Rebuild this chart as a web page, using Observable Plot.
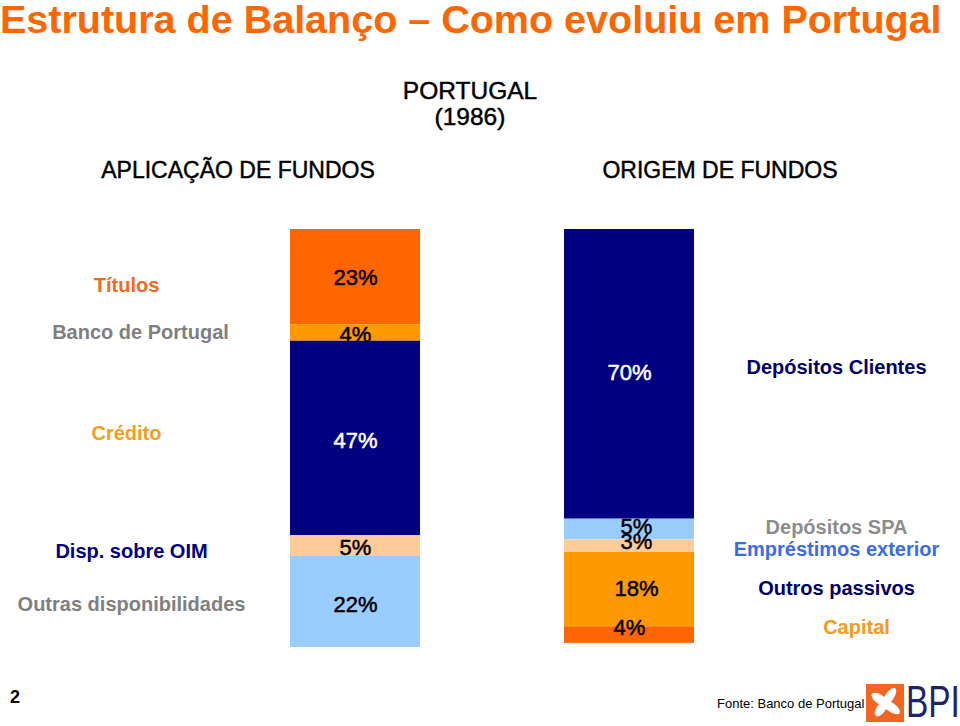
<!DOCTYPE html>
<html>
<head>
<meta charset="utf-8">
<script src="https://cdn.jsdelivr.net/npm/d3@7"></script>
<script src="https://cdn.jsdelivr.net/npm/@observablehq/plot@0.6"></script>
<style>
  html, body { margin: 0; padding: 0; background: #fff; }
  body { font-family: "Liberation Sans", Arial, Helvetica, sans-serif; }
  #wrap { position: relative; width: 960px; height: 726px; overflow: hidden; background: #fff; }
  .t { position: absolute; white-space: nowrap; line-height: 1; }
  .med { -webkit-text-stroke: 0.45px currentColor; }
  #chart { position: absolute; left: 0; top: 200px; }
</style>
</head>
<body>
<div id="wrap">
  <div class="t" id="title" style="left:0;top:0;font-size:39.5px;font-weight:bold;color:#FF6600;">Estrutura de Balanço – Como evoluiu em Portugal</div>
  <div class="t med" style="left:0;width:940px;text-align:center;top:79px;font-size:24.5px;color:#000;">PORTUGAL</div>
  <div class="t med" style="left:0;width:940px;text-align:center;top:104.5px;font-size:24.5px;color:#000;">(1986)</div>
  <div class="t med" id="hL" style="left:0;width:476px;text-align:center;top:158.5px;font-size:23px;color:#000;"></div>
  <div class="t med" id="hR" style="left:0;width:1440px;text-align:center;top:158.5px;font-size:23px;color:#000;"></div>
  <div id="chart"></div>
  <div class="t" style="left:10px;top:688px;font-size:18px;font-weight:bold;color:#000;">2</div>
  <div class="t" style="left:717px;top:697px;font-size:13px;color:#000;">Fonte: Banco de Portugal</div>
  <svg style="position:absolute;left:866px;top:684px;" width="38" height="38" viewBox="0 0 38 38">
    <rect width="38" height="38" fill="#F26522"/>
    <g fill="#fff" transform="translate(19,19)">
      <ellipse rx="4.5" ry="11" transform="rotate(35) translate(0,-7)"/>
      <ellipse rx="4.5" ry="11" transform="rotate(125) translate(0,-7)"/>
      <ellipse rx="4.5" ry="9" transform="rotate(215) translate(0,-7)"/>
      <ellipse rx="4.5" ry="9" transform="rotate(305) translate(0,-7)"/>
    </g>
  </svg>
  <div class="t" style="left:906px;top:680px;font-size:44px;color:#1C2566;transform:scaleX(0.76);transform-origin:left top;">BPI</div>
</div>
<script>
// ---- Data ----
const lados = ["APLICAÇÃO DE FUNDOS", "ORIGEM DE FUNDOS"];
const aplicacaoCategorias = ["Títulos", "Banco de Portugal", "Crédito", "Disp. sobre OIM", "Outras disponibilidades"];
const aplicacaoValores = [23, 4, 47, 5, 22];
const origemCategorias = ["Depósitos Clientes", "Depósitos SPA", "Empréstimos exterior", "Outros passivos", "Capital"];
const origemValores = [70, 5, 3, 18, 4];

// ---- Styles ----
const segmentColors = {
  "Títulos": "#FF6600", "Banco de Portugal": "#FF9900", "Crédito": "#000080",
  "Disp. sobre OIM": "#FFCC99", "Outras disponibilidades": "#99CCFF",
  "Depósitos Clientes": "#000080", "Depósitos SPA": "#99CCFF", "Empréstimos exterior": "#FFCC99",
  "Outros passivos": "#FF9900", "Capital": "#FF6600"
};
const labelColors = {
  "Títulos": "#F26B1D", "Banco de Portugal": "#7F7F7F", "Crédito": "#F0A01E",
  "Disp. sobre OIM": "#000080", "Outras disponibilidades": "#808080",
  "Depósitos Clientes": "#000066", "Depósitos SPA": "#8C8C8C", "Empréstimos exterior": "#3B6CE8",
  "Outros passivos": "#000066", "Capital": "#F39A1E"
};
// label nudges [dx, dy] in pixels (name labels and value labels)
const nameNudge = {
  "Títulos": [-5, 8], "Banco de Portugal": [9, 0], "Crédito": [-5, -5], "Disp. sobre OIM": [0, 5],
  "Outras disponibilidades": [0, 3],
  "Depósitos Clientes": [0, -7], "Depósitos SPA": [0, -2], "Empréstimos exterior": [0, 3],
  "Outros passivos": [0, -1], "Capital": [20, -7]
};
const valueNudge = {
  "Títulos": [0, 1], "Banco de Portugal": [0, 2], "Crédito": [0, 2], "Disp. sobre OIM": [0, 2],
  "Outras disponibilidades": [0, 3],
  "Depósitos Clientes": [0, -1], "Depósitos SPA": [7, -3], "Empréstimos exterior": [7, -4],
  "Outros passivos": [7, -1], "Capital": [0, -7]
};

document.getElementById("hL").textContent = lados[0];
document.getElementById("hR").textContent = lados[1];

const rowsA = aplicacaoCategorias.map((c, i) => ({bar: "A", side: "L", cat: c, value: aplicacaoValores[i]}));
const rowsO = origemCategorias.map((c, i) => ({bar: "O", side: "R", cat: c, value: origemValores[i]}));
const rows = rowsA.concat(rowsO);

const textColor = d => segmentColors[d.cat] === "#000080" ? "#fff" : "#000";

const valueMarks = rows.map(r => Plot.text(rows, Plot.stackY({
  x: "bar", y: "value", order: null, z: null,
  text: d => d === r ? d.value + "%" : null,
  fill: textColor, stroke: textColor, strokeWidth: 0.5,
  fontSize: 22, dx: valueNudge[r.cat][0], dy: valueNudge[r.cat][1]
})));

const nameMarks = [rowsA, rowsO].flatMap((set, k) => set.map(r => Plot.text(set, Plot.stackY({
  x: "side", y: "value", order: null, z: null,
  text: d => d === r ? d.cat : null,
  fill: d => labelColors[d.cat], fontSize: 20, fontWeight: "bold",
  dx: (k === 0 ? -87 : 70) + nameNudge[r.cat][0], dy: nameNudge[r.cat][1]
}))));

const chart = Plot.plot({
  width: 960,
  height: 460,
  marginTop: 29,
  marginBottom: 13,
  marginLeft: 145,
  marginRight: 120,
  style: {fontFamily: '"Liberation Sans", Arial, sans-serif', background: "transparent"},
  x: {axis: null, domain: ["L", "A", "M", "O", "R"], padding: 0.05},
  y: {axis: null, domain: [0, 101], reverse: true},
  marks: [
    Plot.barY(rows, Plot.stackY({x: "bar", y: "value", fill: d => segmentColors[d.cat], order: null, z: null})),
    ...valueMarks,
    ...nameMarks
  ]
});
document.getElementById("chart").appendChild(chart);
</script>
</body>
</html>
